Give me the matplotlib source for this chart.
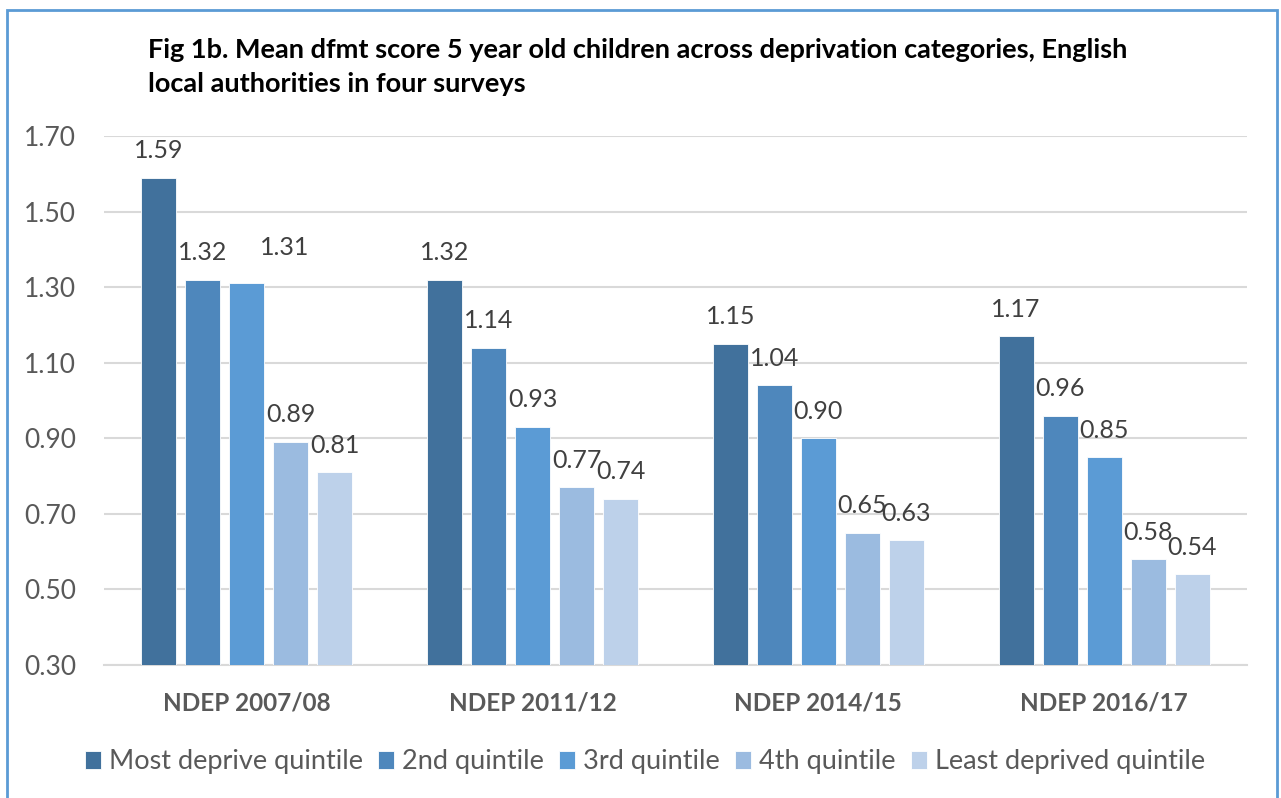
import numpy as np
import matplotlib.pyplot as plt
from matplotlib.patches import Rectangle

# Data
surveys = ['NDEP 2007/08', 'NDEP 2011/12', 'NDEP 2014/15', 'NDEP 2016/17']
quintiles = ['Most deprive quintile', '2nd quintile', '3rd quintile',
             '4th quintile', 'Least deprived quintile']
most_deprived = [1.59, 1.32, 1.15, 1.17]
second_q = [1.32, 1.14, 1.04, 0.96]
third_q = [1.31, 0.93, 0.90, 0.85]
fourth_q = [0.89, 0.77, 0.65, 0.58]
least_deprived = [0.81, 0.74, 0.63, 0.54]

series = [most_deprived, second_q, third_q, fourth_q, least_deprived]
colors = ['#41719C', '#4E87BC', '#5B9BD5', '#9BBBE0', '#BDD1EA']

plt.rcParams['font.family'] = ['Lato', 'DejaVu Sans']

W, H = 1281, 798
fig = plt.figure(figsize=(W / 100, H / 100), dpi=100)
ax = fig.add_axes([104 / W, 1 - 665 / H, (1247 - 104) / W, (665 - 136) / H])

x = np.arange(len(surveys))
step = 0.154
width = 0.1225
for i, (vals, c, name) in enumerate(zip(series, colors, quintiles)):
    pos = x + (i - 2) * step
    ax.bar(pos, vals, width, color=c, label=name,
           edgecolor='white', linewidth=0.6, zorder=3)
    for j, (p, v) in enumerate(zip(pos, vals)):
        dx, dy = 0, 19.5
        if i == 2 and j == 0:
            # label moved by hand in the original
            dx, dy = 27, 26
        ax.annotate(f'{v:.2f}', (p, v), xytext=(dx, dy), textcoords='offset points',
                    ha='center', va='center', fontsize=18, color='#404040')

ax.set_ylim(0.3, 1.7)
ax.set_xlim(-0.5, 3.5)
yt = np.arange(0.3, 1.71, 0.2)
ax.set_yticks(yt)
ax.set_yticklabels([f'{t:.2f}' for t in yt], fontsize=19, color='#595959')
ax.set_xticks(x)
ax.set_xticklabels(surveys, fontsize=17.5, fontweight='bold', color='#595959')
ax.tick_params(axis='both', length=0)
ax.tick_params(axis='x', pad=19)
ax.tick_params(axis='y', pad=20)
ax.grid(axis='y', color='#D9D9D9', linewidth=1.5, zorder=0)
for s in ['top', 'right', 'left']:
    ax.spines[s].set_visible(False)
ax.spines['bottom'].set_color('#D9D9D9')
ax.spines['bottom'].set_linewidth(1.5)

fig.text(148 / W, 1 - 67 / H,
         'Fig 1b. Mean dfmt score 5 year old children across deprivation categories, English\n'
         'local authorities in four surveys',
         fontsize=19.5, fontweight='bold', color='black', va='center', ha='left',
         linespacing=1.45)

fig.legend(loc='center', bbox_to_anchor=(0.5035, 1 - 762 / H), ncol=5, frameon=False,
           fontsize=19.5, handlelength=0.6, handleheight=0.6, handletextpad=0.3,
           columnspacing=0.55, labelcolor='#595959')

fig.patches.append(Rectangle((7 / W, -0.05), (1277 - 7) / W, 1.05 - 10 / H,
                             transform=fig.transFigure, fill=False,
                             edgecolor='#5B9BD5', linewidth=2))

fig.savefig('out.png', dpi=100)
